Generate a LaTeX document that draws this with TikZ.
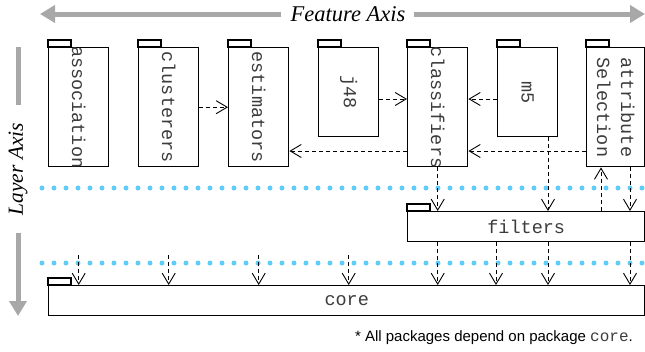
\documentclass[tikz,border=0pt]{standalone}
\usepackage{fontspec}
\setmainfont{Liberation Serif}
\setsansfont{Liberation Sans}
\setmonofont{Liberation Mono}
\usetikzlibrary{arrows.meta,calc}
\definecolor{axisgray}{RGB}{168,168,168}
\definecolor{dotblue}{RGB}{95,205,248}
\definecolor{txtgray}{RGB}{60,60,60}
\begin{document}
\begin{tikzpicture}[x=1pt,y=-1pt,
  pkg/.style={draw=black, line width=1.4pt, fill=white, inner sep=0pt, anchor=north west, minimum width=60pt, minimum height=119pt},
  pkgtab/.style={draw=black, line width=1.3pt, fill=white},
  lbl/.style={font=\fontsize{18.5}{24}\selectfont\ttfamily, text=txtgray, inner sep=0pt, align=left},
  dep/.style={draw=black, line width=0.8pt, dash pattern=on 4pt off 3pt, -{Straight Barb[length=11pt,width=13pt,line width=0.9pt]}},
  axisbar/.style={draw=axisgray, line width=5pt},
  axlbl/.style={font=\fontsize{22.5}{26}\selectfont\itshape, text=black, inner sep=0pt},
  dotrow/.style={draw=dotblue, line width=5pt, line cap=round, dash pattern=on 0pt off 12pt}
]
\useasboundingbox (0,0) rectangle (645,351);

% axes
\node[axlbl] (feat) at (348,14) {Feature Axis};
\coordinate (fl) at (40,14);
\coordinate (fr) at (645,14);
\draw[axisbar, -{Triangle[length=15pt,width=17pt]}] ([xshift=-9pt]feat.west) -- (fl);
\draw[axisbar, -{Triangle[length=15pt,width=17pt]}] ([xshift=8pt]feat.east) -- (fr);

\node[axlbl, font=\fontsize{21.5}{26}\selectfont\itshape, rotate=90] (layer) at (18,169) {Layer Axis};
\coordinate (lt) at (18,47);
\coordinate (lb) at (18,316);
\draw[axisbar] ([yshift=18pt]layer.east) -- (lt);
\draw[axisbar, -{Triangle[length=15pt,width=17pt]}] ([yshift=-18pt]layer.west) -- (lb);

% dotted separators
\draw[dotrow] (42,188) -- (645,188);
\draw[dotrow] (42,263) -- (645,263);

% packages
\node[pkg] (assoc) at (48,47) {};
\node[pkg] (clus) at (138,47) {};
\node[pkg] (est) at (228,47) {};
\node[pkg, minimum height=89pt] (j48) at (318,47) {};
\node[pkg] (clas) at (407,47) {};
\node[pkg, minimum height=89pt] (m5) at (497,47) {};
\node[pkg, minimum width=58pt] (attr) at (586,47) {};
\node[pkg, minimum width=237pt, minimum height=30pt] (filt) at (407,211) {};
\node[pkg, minimum width=596pt, minimum height=29.5pt] (core) at (48,285) {};

\foreach \p in {assoc,clus,est,j48,clas,m5,attr,filt,core}{
  \draw[pkgtab] (\p.north west) rectangle ++(23,-7);
}

\node[lbl, rotate=-90] (assocT) at (assoc.center) {association};
\node[lbl, rotate=-90] (clusT) at (clus.center) {clusterers};
\node[lbl, rotate=-90] (estT) at (est.center) {estimators};
\node[lbl, rotate=-90] (j48T) at (j48.center) {j48};
\node[lbl, rotate=-90] (clasT) at (clas.center) {classifiers};
\node[lbl, rotate=-90] (m5T) at (m5.center) {m5};
\node[lbl, rotate=-90] (attrT) at (attr.center) {attribute\\Selection};
\node[lbl] (filtT) at (filt.center) {filters};
\node[lbl] (coreT) at (core.center) {core};

% dependencies among packages
\draw[dep] (clus.east) -- (est.west);
\coordinate (j48o) at ($(j48.north east)+(0,52)$);
\draw[dep] (j48o) -- (j48o -| clas.west);
\coordinate (m5o) at ($(m5.north west)+(0,52)$);
\draw[dep] (m5o) -- (m5o -| clas.east);
\coordinate (claso) at ($(clas.north west)+(0,104)$);
\draw[dep] (claso) -- (claso -| est.east);
\coordinate (attro) at ($(attr.north west)+(0,104)$);
\draw[dep] (attro) -- (attro -| clas.east);

% to filters
\draw[dep] (clas.south) -- (clas.south |- filt.north);
\coordinate (m5d) at ($(m5.south west)+(51,0)$);
\draw[dep] (m5d) -- (m5d |- filt.north);
\coordinate (attru) at ($(attr.south west)+(15,0)$);
\draw[dep] (attru |- filt.north) -- (attru);
\coordinate (attrd) at ($(attr.south west)+(44,0)$);
\draw[dep] (attrd) -- (attrd |- filt.north);

% to core
\coordinate (filtd) at ($(filt.south west)+(89,0)$);
\draw[dep] (clas.south |- filt.south) -- (clas.south |- core.north);
\draw[dep] (filtd) -- (filtd |- core.north);
\draw[dep] (m5d |- filt.south) -- (m5d |- core.north);
\draw[dep] (attrd |- filt.south) -- (attrd |- core.north);
\foreach \p in {assoc,clus,est,j48}{
  \draw[dep] (\p.south |- 0,255) -- (\p.south |- core.north);
}

% footnote
\node[anchor=base east, inner sep=0pt, font=\fontsize{15}{18}\selectfont\sffamily, text=black] (note) at (633,341) {* All packages depend on package {\fontsize{16}{18}\selectfont\ttfamily\color{txtgray}core}.};
\end{tikzpicture}
\end{document}
